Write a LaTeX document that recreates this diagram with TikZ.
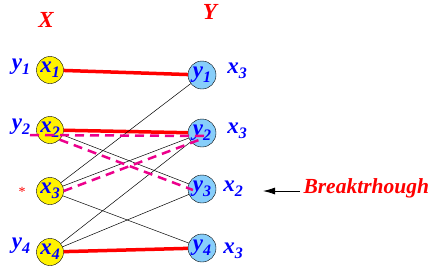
\documentclass[tikz,border=0pt]{standalone}
\usepackage{fontspec}
\setmainfont{Liberation Serif}
\usetikzlibrary{arrows.meta}
\definecolor{skyb}{RGB}{135,206,250}
\newcommand{\lbl}[2]{#1\raisebox{-5pt}{\fontsize{16}{16}\selectfont #2}}

\begin{document}
\begin{tikzpicture}[x=1pt, y=-1pt, every node/.style={font=\fontsize{23}{23}\selectfont\bfseries\itshape, text=blue}, >={Latex[length=12pt,width=7pt]},
	xnode/.style={circle, draw, fill=yellow, minimum size=27pt, inner sep=0pt},
	ynode/.style={circle, draw, fill=skyb, minimum size=28pt, inner sep=0pt},
	match/.style={red, line width=3.5pt},
	alt/.style={magenta, line width=2.5pt, dash pattern=on 9pt off 6pt},
	edge/.style={black, line width=0.5pt}]
	\useasboundingbox (0,0) rectangle (439,276);
	\node[text=red] (hx) at (46,20) {X};
	\node[text=red] (hy) at (210,12) {Y};
	\foreach \i/\a/\b in {1/70/75, 2/130/133, 3/191/189, 4/252/248} {
		\node[xnode] (x\i) at (50,\a) {\lbl{x}{\i}};
		\node[ynode] (y\i) at (202,\b) {\lbl{y}{\i}};
	}
	\node (lx1) at (21,67) {\lbl{y}{1}};
	\node (lx2) at (21,127) {\lbl{y}{2}};
	\node[text=red, font=\fontsize{14}{14}\selectfont] (lx3) at (22,192) {*};
	\node (lx4) at (21,246) {\lbl{y}{4}};
	\node (ly1) at (237,71) {\lbl{x}{3}};
	\node (ly2) at (237,131) {\lbl{x}{3}};
	\node (ly3) at (233,189) {\lbl{x}{2}};
	\node (ly4) at (233,251) {\lbl{x}{3}};
	\node[text=red, anchor=west, font=\fontsize{21.5}{21.5}\selectfont\bfseries\itshape] (brk) at (300,188) {Breaktrhough};
	\coordinate (tip) at (263,191);
	\draw[->, thick] (brk.west |- tip) -- (tip);
	% matching and other edges
	\draw[match] (x1) -- (y1);
	\draw[match] (x2) -- (y2);
	\draw[match] (x4) -- (y4);
	\foreach \u/\v in {3/1, 3/2, 3/4, 2/3, 4/2, 4/3} \draw[edge] (x\u) -- (y\v);
	% alternating path
	\draw[alt] ([shift={(-20,5)}]x2.center) -- ([shift={(8,3)}]y2.center);
	\draw[alt] (x2.south east) -- ([shift={(-9,1)}]y3.center);
	\draw[alt] (x3.east) -- ([shift={(2,5)}]y2.center);
\end{tikzpicture}
\end{document}
